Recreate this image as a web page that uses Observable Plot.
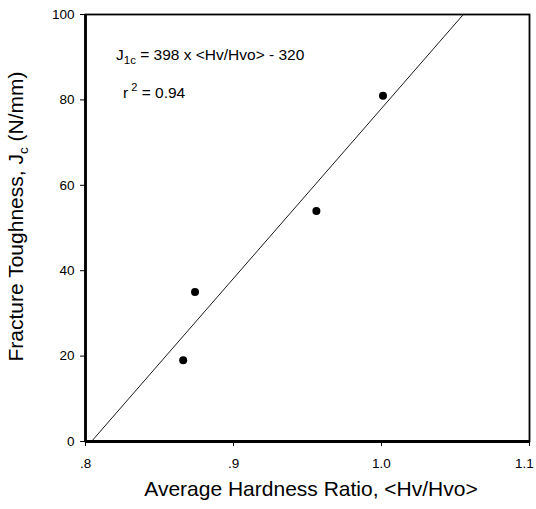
<!DOCTYPE html>
<html><head><meta charset="utf-8">
<script src="https://cdn.jsdelivr.net/npm/d3@7"></script>
<script src="https://cdn.jsdelivr.net/npm/@observablehq/plot@0.6"></script>
<style>body{margin:0;background:#fff;font-family:"Liberation Sans",Arial,sans-serif}</style>
</head><body><div id="chart"></div>
<script>
const hardnessRatio = [0.866, 0.874, 0.956, 1.001];
const toughness = [19, 35, 54, 81];
const slope = 398, intercept = -320;
const xTicks = [0.8, 0.9, 1.0, 1.1];
const yTicks = [0, 20, 40, 60, 80, 100];
const eqText = {sub: "1c", rest: " = 398 x <Hv/Hvo> - 320"};
const r2Text = "= 0.94";

const pts = hardnessRatio.map((x, i) => ({x, y: toughness[i]}));
const fitLine = [0, 100].map(y => ({x: (y - intercept) / slope, y}));
const fmtX = d => d < 1 ? d.toFixed(1).replace(/^0/, "") : d.toFixed(1);
const FONT = "Liberation Sans, Arial, sans-serif";

const plot = Plot.plot({
  width: 536, height: 509,
  marginLeft: 85, marginRight: 7, marginTop: 14, marginBottom: 68,
  style: {fontFamily: FONT, fontSize: "13px", color: "#000", background: "#fff"},
  x: {domain: [0.8, 1.1], ticks: xTicks, tickFormat: fmtX, label: null},
  y: {domain: [0, 100], ticks: yTicks, label: null},
  marks: [
    Plot.axisX({ticks: xTicks, tickFormat: fmtX, tickSize: 5, tickPadding: 12, fontSize: 13.5, fill: "#000", label: null}),
    Plot.axisY({ticks: yTicks, tickSize: 5, tickPadding: 6, fontSize: 13.5, fill: "#000", label: null}),
    Plot.frame({stroke: "#000", strokeWidth: 1.8}),
    Plot.ruleX([0.8], {stroke: "#000", strokeWidth: 2.8}),
    Plot.ruleY([0], {stroke: "#000", strokeWidth: 2.8}),
    Plot.line(fitLine, {x: "x", y: "y", stroke: "#000", strokeWidth: 0.9}),
    Plot.dot(pts, {x: "x", y: "y", r: 4, fill: "#000", stroke: "none"})
  ]
});
document.getElementById("chart").appendChild(plot);

const svg = d3.select(plot);
const sx = plot.scale("x"), sy = plot.scale("y");
const x0 = sx.apply(0.8), x1 = sx.apply(1.1), y0 = sy.apply(0), y1 = sy.apply(100);

// keep the last x tick label inside the picture
svg.selectAll("g[aria-label='x-axis tick label'] text").each(function(d, i, n) {
  if (i === n.length - 1) d3.select(this).attr("dx", -5);
});

// equation
const eq = svg.append("text").attr("x", x0 + 31).attr("y", y1 + 46)
  .attr("text-anchor", "start")
  .attr("font-size", 15.5).attr("font-family", FONT).attr("fill", "#000");
eq.append("tspan").text("J");
eq.append("tspan").attr("dy", 4).attr("font-size", 11.5).text(eqText.sub);
eq.append("tspan").attr("dy", -4).text(eqText.rest);

const r2 = svg.append("text").attr("x", x0 + 38).attr("y", y1 + 84)
  .attr("text-anchor", "start")
  .attr("font-size", 15.5).attr("font-family", FONT).attr("fill", "#000");
r2.append("tspan").text("r");
r2.append("tspan").attr("dy", -7).attr("font-size", 11).text(" 2");
r2.append("tspan").attr("dy", 7).text(" " + r2Text);

// x label
svg.append("text").attr("x", (x0 + x1) / 2 + 4).attr("y", 496)
  .attr("text-anchor", "middle").attr("font-size", 21)
  .attr("font-family", FONT).attr("fill", "#000")
  .text("Average Hardness Ratio, <Hv/Hvo>");

// y label
const yl = svg.append("text")
  .attr("transform", `translate(23,${(y0 + y1) / 2 - 11}) rotate(-90)`)
  .attr("text-anchor", "middle").attr("font-size", 21)
  .attr("font-family", FONT).attr("fill", "#000");
yl.append("tspan").text("Fracture Toughness, J");
yl.append("tspan").attr("dy", 5).attr("font-size", 13.5).text("c");
yl.append("tspan").attr("dy", -5).text(" (N/mm)");
</script></body></html>
